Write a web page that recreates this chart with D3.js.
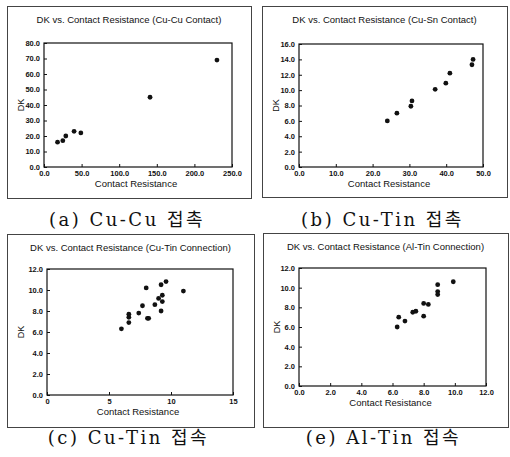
<!DOCTYPE html>
<html>
<head>
<meta charset="utf-8">
<script src="https://cdn.jsdelivr.net/npm/d3@7"></script>
<style>
  body { margin: 0; background: #fff; }
  svg { display: block; }
  .title, .axis-label { font-family: "Liberation Sans", Arial, sans-serif; fill: #111; }
  .tick text { font-family: "Liberation Sans", Arial, sans-serif; font-weight: bold; fill: #111; }
  .caption { font-family: "DejaVu Serif", "Noto Sans CJK KR", serif; fill: #111; }
</style>
</head>
<body>
<svg id="chart" width="510" height="457"></svg>
<script>
// panel titles and captions
const titles = [
  "DK vs. Contact Resistance (Cu-Cu Contact)",
  "DK vs. Contact Resistance (Cu-Sn Contact)",
  "DK vs. Contact Resistance (Cu-Tin Connection)",
  "DK vs. Contact Resistance (Al-Tin Connection)"
];
const captions = ["(a) Cu-Cu 접촉", "(b) Cu-Tin 접촉", "(c) Cu-Tin 접속", "(e) Al-Tin 접속"];

// (a) Cu-Cu contact
const cuCuResistance = [18, 25, 29, 40, 49, 141, 230];
const cuCuDK = [16, 17, 20, 23, 22, 45, 69];
const cuCuXTicks = [0, 50, 100, 150, 200, 250];
const cuCuYTicks = [0, 10, 20, 30, 40, 50, 60, 70, 80];

// (b) Cu-Sn contact
const cuSnResistance = [24, 26.6, 30.4, 30.7, 37, 39.9, 41, 47, 47.3];
const cuSnDK = [6.0, 7.0, 7.9, 8.6, 10.1, 10.9, 12.2, 13.3, 14.0];
const cuSnXTicks = [0, 10, 20, 30, 40, 50];
const cuSnYTicks = [0, 2, 4, 6, 8, 10, 12, 14, 16];

// (c) Cu-Tin connection
const cuTinResistance = [6.0, 6.6, 6.6, 6.6, 7.4, 7.7, 8.0, 8.1, 8.2, 8.7, 9.0, 9.2, 9.3, 9.3, 9.2, 9.6, 11.0];
const cuTinDK = [6.3, 6.9, 7.4, 7.7, 7.8, 8.5, 10.2, 7.3, 7.3, 8.6, 9.2, 10.5, 9.5, 8.9, 8.0, 10.8, 9.9];
const cuTinXTicks = [0, 5, 10, 15];
const cuTinYTicks = [0, 2, 4, 6, 8, 10, 12];

// (e) Al-Tin connection
const alTinResistance = [6.3, 6.4, 6.8, 7.3, 7.5, 8.0, 8.3, 8.0, 8.9, 8.9, 8.9, 9.9];
const alTinDK = [6.0, 7.0, 6.6, 7.5, 7.6, 8.4, 8.3, 7.1, 10.3, 9.6, 9.3, 10.6];
const alTinXTicks = [0, 2, 4, 6, 8, 10, 12];
const alTinYTicks = [0, 2, 4, 6, 8, 10, 12];

const svg = d3.select("#chart");

const panels = [
  { frame: [7, 6, 251, 198], plot: [44, 43, 232, 167], x: cuCuResistance, y: cuCuDK,
    xTicks: cuCuXTicks, yTicks: cuCuYTicks, xFmt: ".1f", yFmt: ".1f", capY: 226 },
  { frame: [262, 6, 507, 197], plot: [299, 44, 483, 167], x: cuSnResistance, y: cuSnDK,
    xTicks: cuSnXTicks, yTicks: cuSnYTicks, xFmt: ".1f", yFmt: ".1f", capY: 226 },
  { frame: [7, 234, 254, 427], plot: [47, 269, 233, 395], x: cuTinResistance, y: cuTinDK,
    xTicks: cuTinXTicks, yTicks: cuTinYTicks, xFmt: "d", yFmt: ".1f", capY: 444 },
  { frame: [263, 233, 508, 427], plot: [299, 268, 486, 386], x: alTinResistance, y: alTinDK,
    xTicks: alTinXTicks, yTicks: alTinYTicks, xFmt: ".1f", yFmt: ".1f", capY: 444 }
];

panels.forEach((p, i) => {
  const [fx0, fy0, fx1, fy1] = p.frame;
  const [px0, py0, px1, py1] = p.plot;

  // outer frame
  svg.append("rect")
    .attr("x", fx0 + 0.5).attr("y", fy0 + 0.5)
    .attr("width", fx1 - fx0).attr("height", fy1 - fy0)
    .attr("fill", "none").attr("stroke", "#444").attr("stroke-width", 1);

  const xScale = d3.scaleLinear()
    .domain(d3.extent(p.xTicks))
    .range([px0, px1]);
  const yScale = d3.scaleLinear()
    .domain(d3.extent(p.yTicks))
    .range([py1, py0]);

  // plot box
  svg.append("rect")
    .attr("x", px0).attr("y", py0)
    .attr("width", px1 - px0).attr("height", py1 - py0)
    .attr("fill", "none").attr("stroke", "#111").attr("stroke-width", 1.2);

  const gx = svg.append("g")
    .attr("transform", `translate(0, ${py1})`)
    .call(d3.axisBottom(xScale).tickValues(p.xTicks).tickFormat(d3.format(p.xFmt))
      .tickSizeInner(-3).tickSizeOuter(0).tickPadding(4));
  const gy = svg.append("g")
    .attr("transform", `translate(${px0}, 0)`)
    .call(d3.axisLeft(yScale).tickValues(p.yTicks).tickFormat(d3.format(p.yFmt))
      .tickSizeInner(-3).tickSizeOuter(0).tickPadding(4));
  [gx, gy].forEach(g => {
    g.select(".domain").remove();
    g.selectAll(".tick line").attr("stroke", "#111");
    g.selectAll(".tick text").attr("font-size", 7.5);
  });

  // points
  svg.append("g")
    .selectAll("circle")
    .data(p.x.map((v, j) => [v, p.y[j]]))
    .join("circle")
    .attr("cx", d => xScale(d[0]))
    .attr("cy", d => yScale(d[1]))
    .attr("r", 2.4)
    .attr("fill", "#111");

  // title
  svg.append("text")
    .attr("class", "title")
    .attr("x", (fx0 + fx1) / 2)
    .attr("y", fy0 + 17)
    .attr("text-anchor", "middle")
    .attr("font-size", 9.5)
    .text(titles[i]);

  // axis labels
  svg.append("text")
    .attr("class", "axis-label")
    .attr("x", (px0 + px1) / 2 - 2)
    .attr("y", py1 + 20)
    .attr("text-anchor", "middle")
    .attr("font-size", 9.5)
    .text("Contact Resistance");
  svg.append("text")
    .attr("class", "axis-label")
    .attr("transform", `translate(${fx0 + 17}, ${(py0 + py1) / 2}) rotate(-90)`)
    .attr("text-anchor", "middle")
    .attr("font-size", 9)
    .text("DK");

  // caption under the panel
  svg.append("text")
    .attr("class", "caption")
    .attr("x", (fx0 + fx1) / 2 - 2)
    .attr("y", p.capY)
    .attr("text-anchor", "middle")
    .attr("font-size", 18)
    .attr("letter-spacing", 2.5)
    .text(captions[i]);
});
</script>
</body>
</html>
